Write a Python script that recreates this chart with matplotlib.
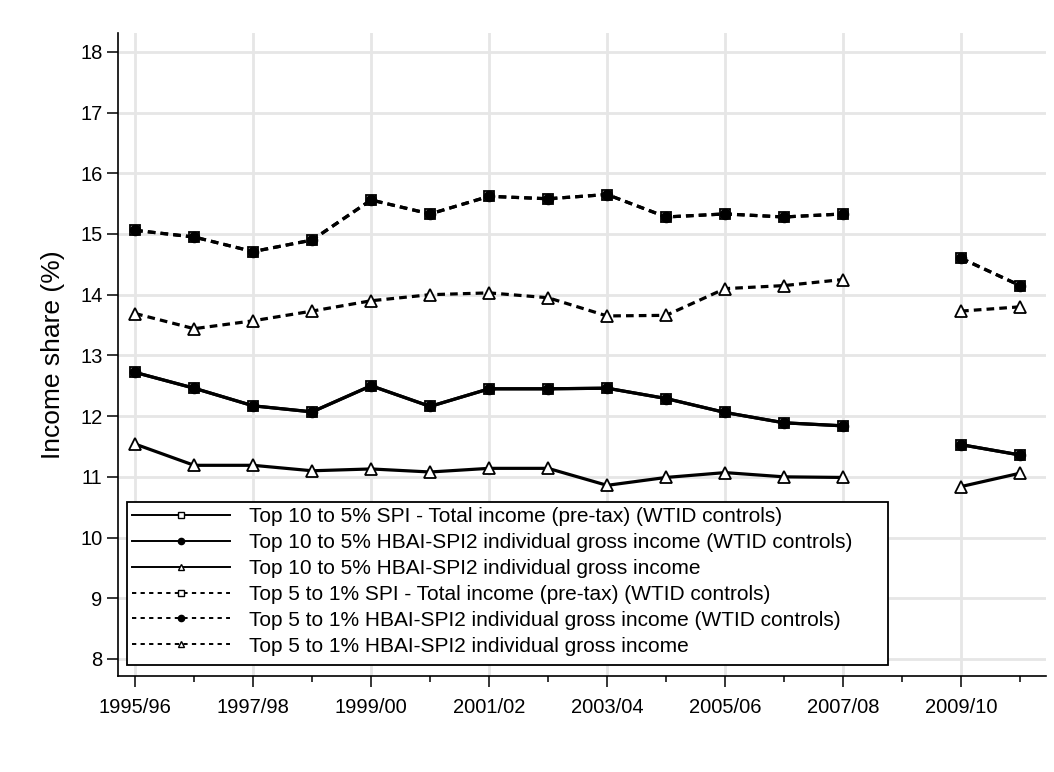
import numpy as np
import matplotlib
matplotlib.use("Agg")
import matplotlib.pyplot as plt
from matplotlib.lines import Line2D
from matplotlib.patches import Rectangle

plt.rcParams['font.family'] = ['Liberation Sans', 'DejaVu Sans']

years = ["1995/96", "1996/97", "1997/98", "1998/99", "1999/00", "2000/01",
         "2001/02", "2002/03", "2003/04", "2004/05", "2005/06", "2006/07",
         "2007/08", "2008/09", "2009/10", "2010/11"]
nan = np.nan

# Top 10 to 5%
spi_10_5 = [12.72, 12.46, 12.17, 12.07, 12.50, 12.16, 12.45, 12.45, 12.46,
            12.29, 12.06, 11.89, 11.84, nan, 11.53, 11.36]
hbai_wtid_10_5 = [12.72, 12.46, 12.17, 12.07, 12.50, 12.16, 12.45, 12.45, 12.46,
                  12.29, 12.06, 11.89, 11.84, nan, 11.53, 11.36]
hbai_10_5 = [11.54, 11.19, 11.19, 11.10, 11.13, 11.08, 11.14, 11.14, 10.86,
             10.99, 11.07, 11.00, 10.99, nan, 10.84, 11.06]

# Top 5 to 1%
spi_5_1 = [15.06, 14.95, 14.71, 14.90, 15.56, 15.33, 15.62, 15.58, 15.65,
           15.28, 15.33, 15.28, 15.33, nan, 14.60, 14.15]
hbai_wtid_5_1 = [15.06, 14.95, 14.71, 14.90, 15.56, 15.33, 15.62, 15.58, 15.65,
                 15.28, 15.33, 15.28, 15.33, nan, 14.60, 14.15]
hbai_5_1 = [13.69, 13.44, 13.57, 13.73, 13.90, 14.00, 14.03, 13.95, 13.65,
            13.66, 14.10, 14.15, 14.25, nan, 13.73, 13.80]

labels = ["Top 10 to 5% SPI - Total income (pre-tax) (WTID controls)",
          "Top 10 to 5% HBAI-SPI2 individual gross income (WTID controls)",
          "Top 10 to 5% HBAI-SPI2 individual gross income",
          "Top 5 to 1% SPI - Total income (pre-tax) (WTID controls)",
          "Top 5 to 1% HBAI-SPI2 individual gross income (WTID controls)",
          "Top 5 to 1% HBAI-SPI2 individual gross income"]

x = np.arange(len(years))
dash = (0, (2.4, 1.6))

W, H = 1054, 772
fig = plt.figure(figsize=(W/100, H/100), dpi=100)
ax = fig.add_axes([118/W, 96/H, 928/W, 643/H])

def draw(vals, ls, marker, face, ms):
    ax.plot(x, vals, color='black', lw=2.3, linestyle=ls, marker=marker,
            markersize=ms, markerfacecolor=face, markeredgecolor='black',
            markeredgewidth=1.3, zorder=3)

draw(spi_10_5, '-', 's', 'white', 7)
draw(hbai_wtid_10_5, '-', 'o', 'black', 7)
draw(hbai_10_5, '-', '^', 'white', 8)
draw(spi_5_1, dash, 's', 'white', 7)
draw(hbai_wtid_5_1, dash, 'o', 'black', 7)
draw(hbai_5_1, dash, '^', 'white', 8)

ax.set_xlim(-0.29, 15.44)
ax.set_ylim(7.72, 18.31)
ax.set_xticks(x[::2])
ax.set_xticklabels(years[::2])
ax.set_xticks(x[1::2], minor=True)
ax.set_yticks(range(8, 19))

ax.grid(True, which='major', color='#e6e6e6', lw=2)
ax.set_axisbelow(True)
for s in ['top', 'right']:
    ax.spines[s].set_visible(False)
for s in ['left', 'bottom']:
    ax.spines[s].set_linewidth(1.2)
ax.tick_params(axis='both', which='major', length=8, width=1.1, labelsize=14.5)
ax.tick_params(axis='x', which='minor', length=4.5, width=1.1)
ax.tick_params(axis='y', pad=3)
ax.tick_params(axis='x', pad=8)
ax.set_ylabel("Income share (%)", fontsize=19, labelpad=11)

handle_dash = (0, (2.2, 2.2))
handles = []
for i, (m, f) in enumerate([('s', 'white'), ('o', 'black'), ('^', 'white')] * 2):
    handles.append(Line2D([], [], color='black', lw=1.4,
                          linestyle='-' if i < 3 else handle_dash,
                          marker=m, markersize=4.5, markerfacecolor=f,
                          markeredgecolor='black', markeredgewidth=1))

# legend box drawn by hand (extra room on the right like the original)
box = Rectangle((127/W, (H-665)/H), (888-127)/W, 163/H,
                transform=fig.transFigure, facecolor='white',
                edgecolor='black', lw=1.3, zorder=4, clip_on=False)
ax.add_patch(box)
leg = ax.legend(handles, labels, loc='upper left',
                bbox_to_anchor=(127/W, (H-502)/H), bbox_transform=fig.transFigure,
                borderaxespad=0, fontsize=15, handlelength=4.7, handletextpad=0.9,
                labelspacing=0.33, borderpad=0.25, frameon=False)
leg.set_zorder(5)

fig.savefig("out.png", dpi=100)
